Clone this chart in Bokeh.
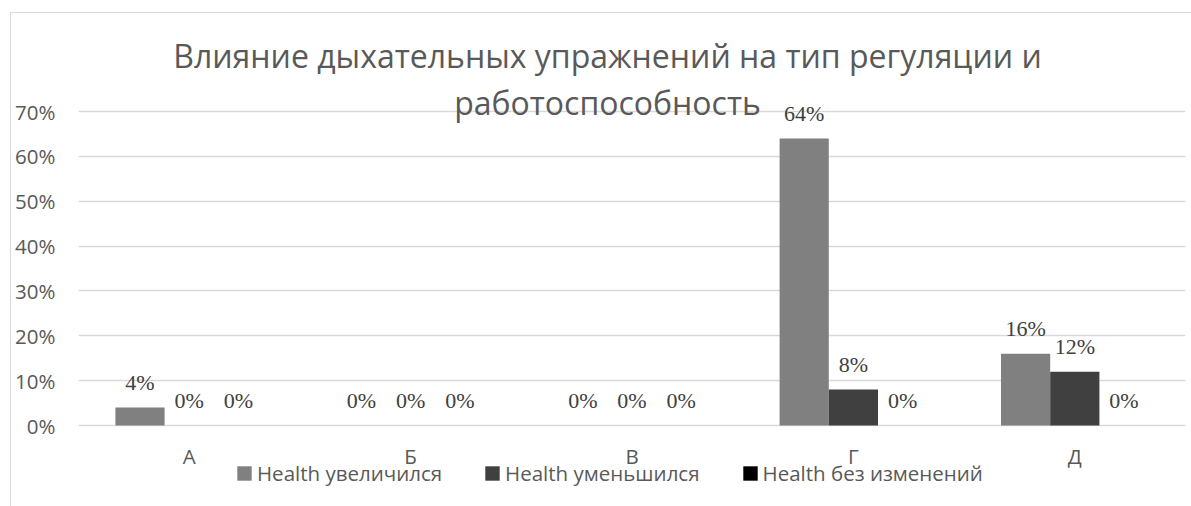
from bokeh.plotting import figure
from bokeh.models import (FactorRange, Range1d, FixedTicker, NumeralTickFormatter,
                          Legend, LegendItem, Label, ColumnDataSource)
from bokeh.transform import dodge
from bokeh.core.properties import value
from bokeh.embed import file_html
from bokeh.resources import INLINE

# ---- data ----
categories = ["А", "Б", "В", "Г", "Д"]
increased = [0.04, 0.00, 0.00, 0.64, 0.16]
decreased = [0.00, 0.00, 0.00, 0.08, 0.12]
unchanged = [0.00, 0.00, 0.00, 0.00, 0.00]
series_names = ["Health увеличился", "Health уменьшился", "Health без изменений"]
y_ticks = [0.0, 0.1, 0.2, 0.3, 0.4, 0.5, 0.6, 0.7]
title_lines = ["Влияние дыхательных упражнений на тип регуляции и", "работоспособность"]

series = [increased, decreased, unchanged]
colors = ["#808080", "#404040", "#000000"]

def pct(v):
    return f"{round(v * 100)}%"

data = dict(cat=categories)
for i, s in enumerate(series):
    data[f"s{i}"] = s
    data[f"l{i}"] = [pct(v) for v in s]
src = ColumnDataSource(data)

# ---- layout (page pixels) ----
PAGE_TOP, PAGE_LEFT = 12, 10          # chart-area border
FRAME_LEFT, FRAME_RIGHT = 77, 1184    # plot area
Y_MAX_PX, Y_ZERO_PX, PAGE_H = 112, 426, 506
CANVAS_TOP = PAGE_TOP + 2             # canvas starts below the 1px border
CANVAS_BOTTOM = CANVAS_TOP + (PAGE_H - PAGE_TOP)
px_per_unit = (Y_ZERO_PX - Y_MAX_PX) / y_ticks[-1]
y_top = y_ticks[-1] + (Y_MAX_PX - CANVAS_TOP) / px_per_unit
y_bot = -(CANVAS_BOTTOM - Y_ZERO_PX) / px_per_unit

p = figure(width=1191 - PAGE_LEFT, height=PAGE_H - PAGE_TOP,
           x_range=FactorRange(factors=categories, range_padding=0),
           y_range=Range1d(y_bot, y_top),
           output_backend="svg", toolbar_location=None,
           min_border_left=FRAME_LEFT - PAGE_LEFT, min_border_right=1191 - FRAME_RIGHT,
           min_border_top=0, min_border_bottom=0,
           margin=(PAGE_TOP, 0, 0, PAGE_LEFT),
           styles={"border-left": "1px solid #d9d9d9", "border-top": "1px solid #d9d9d9"})
p.title.visible = False
p.outline_line_color = None
p.background_fill_color = "white"
p.border_fill_color = "white"

# grid
p.xgrid.grid_line_color = None
p.ygrid.grid_line_color = "#d9d9d9"
p.ygrid.grid_line_width = 1.3

# y axis
p.yaxis.ticker = FixedTicker(ticks=y_ticks)
p.yaxis.formatter = NumeralTickFormatter(format="0%")
p.yaxis.axis_line_color = None
p.yaxis.major_tick_line_color = None
p.yaxis.minor_tick_line_color = None
p.yaxis.major_tick_out = 0
p.yaxis.major_tick_in = 0
p.yaxis.major_label_standoff = 23
p.yaxis.major_label_text_font = "Open Sans"
p.yaxis.major_label_text_font_size = "20.5px"
p.yaxis.major_label_text_color = "#595959"

# x axis hidden; category labels drawn under the zero line
p.xaxis.visible = False
p.text(x="cat", y=0, text="cat", source=src, text_align="center", text_baseline="middle",
       y_offset=30, text_font=value("Open Sans"), text_font_size="20.5px",
       text_color="#595959")

bw = 1 / 4.5
offsets = [-bw, 0.0, bw]
renderers = []
for i in range(3):
    r = p.vbar(x=dodge("cat", offsets[i], range=p.x_range), top=f"s{i}", width=bw,
               source=src, fill_color=colors[i], line_color=None)
    renderers.append(r)
    p.text(x=dodge("cat", offsets[i], range=p.x_range), y=f"s{i}", text=f"l{i}",
           source=src, text_align="center", text_baseline="alphabetic", y_offset=-25,
           text_font=value("Liberation Serif"), text_font_size="22px",
           text_color="#404040")

# title (frame-relative screen units)
for line, base in zip(title_lines, [56, 103]):
    p.add_layout(Label(x=606 - FRAME_LEFT, y=CANVAS_BOTTOM - base, x_units="screen",
                       y_units="screen", text=line, text_align="center",
                       text_baseline="alphabetic", text_font="Open Sans",
                       text_font_size="32px", text_color="#595959"))

# legend
legend = Legend(items=[LegendItem(label=n, renderers=[r]) for n, r in zip(series_names, renderers)],
                location=(234 - FRAME_LEFT, CANVAS_BOTTOM - 488), orientation="horizontal",
                padding=0, margin=0, spacing=41,
                border_line_color=None, background_fill_alpha=0,
                glyph_width=18, glyph_height=18, label_standoff=4,
                label_text_font="Open Sans", label_text_font_size="20.5px",
                label_text_color="#595959")
p.add_layout(legend, "center")

open("out.html", "w").write(file_html(p, INLINE))
